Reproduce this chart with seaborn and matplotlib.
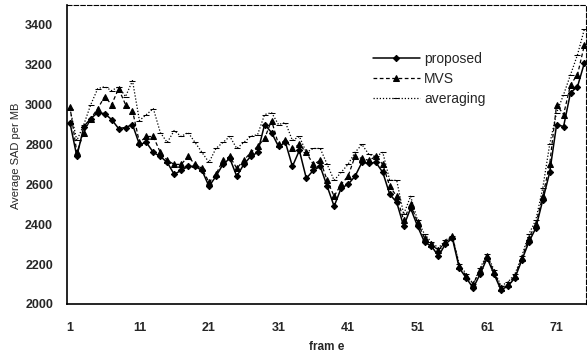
import numpy as np
import pandas as pd
import seaborn as sns
import matplotlib.pyplot as plt

frames = list(range(1, 76))

proposed = [2910, 2740, 2890, 2930, 2960, 2955, 2925, 2880, 2885, 2900,
            2800, 2810, 2760, 2740, 2710, 2650, 2670, 2690, 2690, 2670,
            2590, 2640, 2700, 2730, 2640, 2700, 2740, 2760, 2900, 2860,
            2790, 2810, 2690, 2770, 2630, 2670, 2690, 2590, 2490, 2580,
            2600, 2640, 2710, 2705, 2710, 2660, 2550, 2510, 2390, 2480,
            2390, 2310, 2290, 2240, 2300, 2330, 2180, 2130, 2080, 2150,
            2230, 2150, 2070, 2090, 2130, 2220, 2310, 2380, 2520, 2660,
            2900, 2890, 3060, 3090, 3210]

mvs = [2990, 2760, 2860, 2930, 2980, 3040, 3000, 3080, 3000, 2970,
       2810, 2840, 2840, 2760, 2720, 2700, 2700, 2740, 2700, 2680,
       2610, 2650, 2720, 2740, 2680, 2720, 2760, 2790, 2830, 2920,
       2800, 2820, 2780, 2800, 2760, 2700, 2720, 2620, 2540, 2600,
       2640, 2740, 2730, 2720, 2740, 2700, 2590, 2540, 2420, 2500,
       2410, 2330, 2300, 2270, 2310, 2340, 2190, 2140, 2100, 2170,
       2240, 2160, 2080, 2100, 2140, 2230, 2330, 2400, 2540, 2700,
       3000, 2950, 3100, 3150, 3300]

averaging = [2980, 2820, 2900, 3000, 3080, 3090, 3070, 3090, 3040, 3120,
             2920, 2950, 2980, 2860, 2810, 2870, 2840, 2860, 2810, 2760,
             2710, 2780, 2810, 2840, 2780, 2810, 2840, 2850, 2950, 2960,
             2900, 2910, 2820, 2840, 2760, 2780, 2780, 2700, 2620, 2660,
             2700, 2760, 2800, 2750, 2740, 2760, 2620, 2620, 2450, 2540,
             2420, 2350, 2310, 2280, 2320, 2340, 2200, 2150, 2100, 2180,
             2250, 2170, 2090, 2110, 2150, 2240, 2350, 2420, 2580, 2800,
             2960, 3050, 3150, 3250, 3380]

series = ["proposed", "MVS", "averaging"]
df = pd.DataFrame({"frame": frames, "proposed": proposed, "MVS": mvs, "averaging": averaging})
long = df.melt(id_vars="frame", var_name="method", value_name="sad")

sns.set_theme(style="white")
plt.rcParams["font.family"] = ["Liberation Sans", "DejaVu Sans"]

fig = plt.figure(figsize=(5.87, 3.53), dpi=100)
ax = fig.add_axes([0.114, 0.139, 0.884, 0.847])

styles = {
    "proposed": dict(linestyle="-", marker="D", markersize=3.2, linewidth=1.1),
    "MVS": dict(linestyle=(0, (3, 2)), marker="^", markersize=4.2, linewidth=0.9),
    "averaging": dict(linestyle=(0, (1, 1.5)), marker="_", markersize=4, linewidth=0.9),
}
for name in series:
    sub = long[long["method"] == name]
    sns.lineplot(data=sub, x="frame", y="sad", ax=ax, color="black",
                 label=name, markeredgecolor="black", **styles[name])

ax.set_xlim(0.57, 75.2)
ax.set_ylim(2000, 3500)
ax.set_yticks(range(2000, 3401, 200))
ax.set_xticks(range(1, 72, 10))
ax.tick_params(axis="y", labelsize=9, length=2, direction="in", pad=10)
ax.tick_params(axis="x", labelsize=9, length=2, direction="in", pad=13)
for lbl in ax.get_yticklabels() + ax.get_xticklabels():
    lbl.set_fontweight("bold")

ax.set_xlabel("fram e", fontsize=8.5, fontweight="bold")
ax.xaxis.set_label_coords(0.5, -0.125)
ax.set_ylabel("Average SAD per MB", fontsize=8)
ax.yaxis.set_label_coords(-0.088, 0.495)

for side in ["left", "bottom"]:
    ax.spines[side].set_color("black")
    ax.spines[side].set_linewidth(1.2)
for side in ["top", "right"]:
    ax.spines[side].set_color("black")
    ax.spines[side].set_linewidth(0.8)
    ax.spines[side].set_linestyle((0, (4, 2)))

leg = ax.legend(loc="upper left", bbox_to_anchor=(0.565, 0.885), frameon=False,
                fontsize=10, handlelength=3.4, handletextpad=0.3, labelspacing=0.45)

fig.savefig("out.png", dpi=100)
